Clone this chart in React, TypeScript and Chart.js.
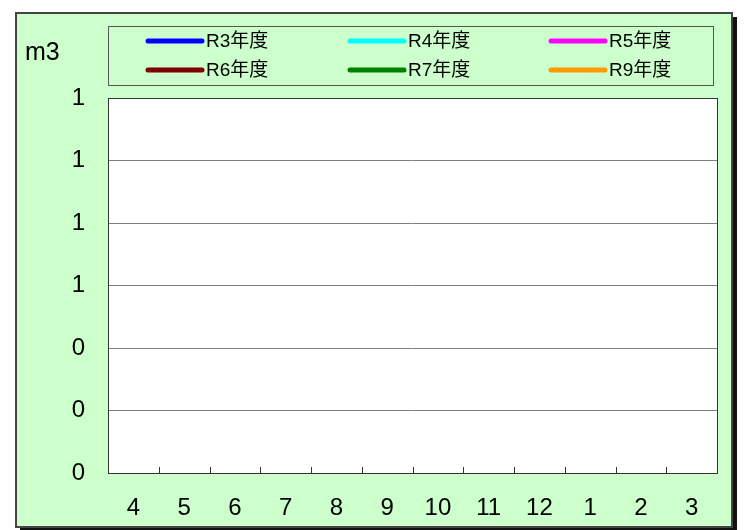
import React, { useEffect, useRef } from "react";
import { Chart, registerables } from "chart.js";

Chart.register(...registerables);

const months = ["4", "5", "6", "7", "8", "9", "10", "11", "12", "1", "2", "3"];
const seriesLabels = ["R3年度", "R4年度", "R5年度", "R6年度", "R7年度", "R9年度"];
const seriesColors = ["#0000FF", "#00FFFF", "#FF00FF", "#800000", "#008000", "#FF9900"];
const r3Values: (number | null)[] = [null, null, null, null, null, null, null, null, null, null, null, null];
const r4Values: (number | null)[] = [null, null, null, null, null, null, null, null, null, null, null, null];
const r5Values: (number | null)[] = [null, null, null, null, null, null, null, null, null, null, null, null];
const r6Values: (number | null)[] = [null, null, null, null, null, null, null, null, null, null, null, null];
const r7Values: (number | null)[] = [null, null, null, null, null, null, null, null, null, null, null, null];
const r9Values: (number | null)[] = [null, null, null, null, null, null, null, null, null, null, null, null];
const yMin = 0;
const yMax = 1.2;
const yStep = 0.2;
const yUnit = "m3";

const FONT = '"Liberation Sans", Arial, "Noto Sans CJK JP", sans-serif';

const framePlugin = {
  id: "frame",
  beforeDraw(chart: any) {
    const ctx = chart.ctx;
    const ca = chart.chartArea;
    ctx.save();
    ctx.fillStyle = "#111";
    ctx.fillRect(20, 17, 717, 515);
    ctx.fillStyle = "#CCFFCC";
    ctx.fillRect(16, 13, 716, 514);
    ctx.strokeStyle = "#444";
    ctx.lineWidth = 2;
    ctx.strokeRect(16, 13, 716, 514);
    ctx.fillStyle = "#FFFFFF";
    ctx.fillRect(ca.left, ca.top, ca.right - ca.left, ca.bottom - ca.top);
    ctx.restore();
  },
  afterDraw(chart: any) {
    const ctx = chart.ctx;
    const ca = chart.chartArea;
    const x = chart.scales.x;
    ctx.save();
    ctx.strokeStyle = "#333";
    ctx.lineWidth = 1;
    ctx.strokeRect(Math.round(ca.left) + 0.5, Math.round(ca.top) + 0.5, Math.round(ca.right - ca.left), Math.round(ca.bottom - ca.top));
    for (let i = 1; i < months.length; i++) {
      const px = Math.round((x.getPixelForTick(i - 1) + x.getPixelForTick(i)) / 2) + 0.5;
      ctx.beginPath();
      ctx.moveTo(px, ca.bottom);
      ctx.lineTo(px, ca.bottom - 6);
      ctx.stroke();
    }
    ctx.fillStyle = "#000";
    ctx.font = "25px " + FONT;
    ctx.textAlign = "left";
    ctx.textBaseline = "middle";
    ctx.fillText(yUnit, 25, 53);
    ctx.fillStyle = "#CCFFCC";
    ctx.fillRect(108, 26, 605, 59);
    ctx.strokeStyle = "#555";
    ctx.lineWidth = 1;
    ctx.strokeRect(108.5, 26.5, 605, 59);
    const colX = [148, 350, 551];
    const rowY = [41, 70];
    ctx.font = "19px " + FONT;
    chart.data.datasets.forEach((ds: any, i: number) => {
      const cx = colX[i % 3];
      const cy = rowY[Math.floor(i / 3)];
      ctx.strokeStyle = ds.borderColor;
      ctx.lineWidth = 5;
      ctx.lineCap = "round";
      ctx.beginPath();
      ctx.moveTo(cx, cy);
      ctx.lineTo(cx + 54, cy);
      ctx.stroke();
      ctx.fillStyle = "#000";
      ctx.fillText(ds.label, cx + 58, cy + 1);
    });
    ctx.restore();
  },
};

export default function App() {
  const ref = useRef<HTMLCanvasElement>(null);
  useEffect(() => {
    if (!ref.current) return;
    const values = [r3Values, r4Values, r5Values, r6Values, r7Values, r9Values];
    const chart = new Chart(ref.current, {
      type: "line",
      data: {
        labels: months,
        datasets: seriesLabels.map((label, i) => ({
          label,
          data: values[i],
          borderColor: seriesColors[i],
          backgroundColor: seriesColors[i],
          borderWidth: 3,
          pointRadius: 0,
          spanGaps: false,
        })),
      },
      options: {
        animation: false,
        responsive: false,
        devicePixelRatio: 1,
        layout: { padding: { left: 16, right: 33, top: 98, bottom: 7 } },
        plugins: { legend: { display: false }, tooltip: { enabled: false } },
        scales: {
          x: {
            type: "category",
            offset: true,
            grid: { display: false, drawTicks: false },
            border: { display: false },
            ticks: { color: "#000", font: { size: 24, family: FONT }, padding: 21, maxRotation: 0, autoSkip: false },
            afterFit: (s: any) => { s.height = 50; },
          },
          y: {
            min: yMin,
            max: yMax,
            grid: { color: "#808080", drawTicks: false, lineWidth: 1 },
            border: { display: false },
            ticks: {
              stepSize: yStep,
              color: "#000",
              font: { size: 24, family: FONT },
              padding: 23,
              callback: (v: any) => String(Math.round(Number(v))),
            },
            afterFit: (s: any) => { s.width = 92; },
          },
        },
      },
      plugins: [framePlugin],
    });
    return () => chart.destroy();
  }, []);
  return (
    <canvas
      ref={ref}
      width={750}
      height={530}
      style={{ position: "absolute", left: 0, top: 0, width: 750, height: 530 }}
    />
  );
}
